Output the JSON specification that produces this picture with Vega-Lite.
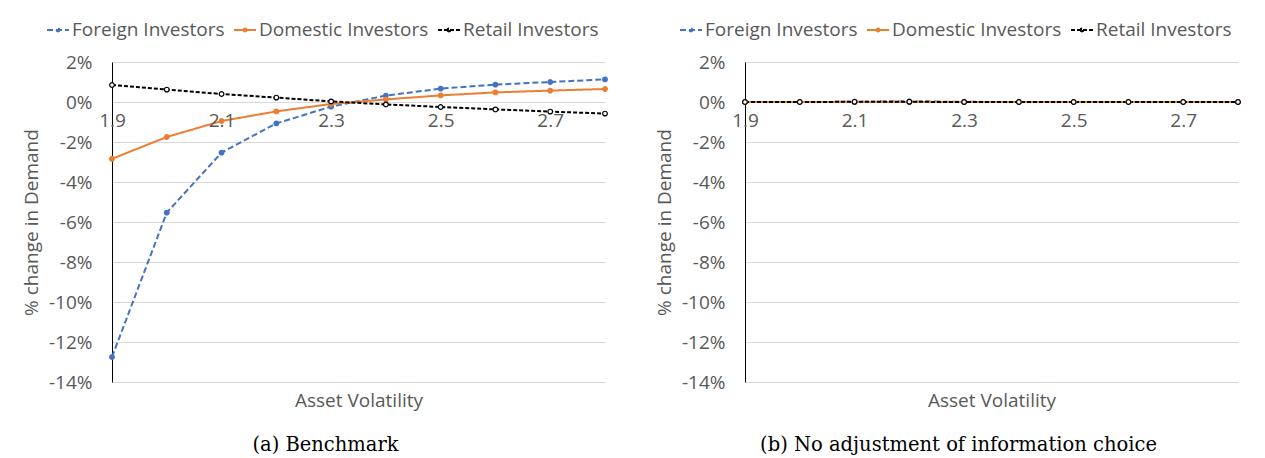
{
  "$schema": "https://vega.github.io/schema/vega-lite/v6.json",
  "background": "white",
  "padding": {"left": 22, "top": 18, "right": 5, "bottom": 5},
  "datasets": {
    "benchmark": [
      {"vol": 1.9, "series": "Foreign Investors", "pct": -12.75},
      {"vol": 2.0, "series": "Foreign Investors", "pct": -5.53},
      {"vol": 2.1, "series": "Foreign Investors", "pct": -2.53},
      {"vol": 2.2, "series": "Foreign Investors", "pct": -1.07},
      {"vol": 2.3, "series": "Foreign Investors", "pct": -0.23},
      {"vol": 2.4, "series": "Foreign Investors", "pct": 0.32},
      {"vol": 2.5, "series": "Foreign Investors", "pct": 0.67},
      {"vol": 2.6, "series": "Foreign Investors", "pct": 0.87},
      {"vol": 2.7, "series": "Foreign Investors", "pct": 1.0},
      {"vol": 2.8, "series": "Foreign Investors", "pct": 1.13},
      {"vol": 1.9, "series": "Domestic Investors", "pct": -2.84},
      {"vol": 2.0, "series": "Domestic Investors", "pct": -1.75},
      {"vol": 2.1, "series": "Domestic Investors", "pct": -0.95},
      {"vol": 2.2, "series": "Domestic Investors", "pct": -0.47},
      {"vol": 2.3, "series": "Domestic Investors", "pct": -0.1},
      {"vol": 2.4, "series": "Domestic Investors", "pct": 0.13},
      {"vol": 2.5, "series": "Domestic Investors", "pct": 0.33},
      {"vol": 2.6, "series": "Domestic Investors", "pct": 0.48},
      {"vol": 2.7, "series": "Domestic Investors", "pct": 0.57},
      {"vol": 2.8, "series": "Domestic Investors", "pct": 0.65},
      {"vol": 1.9, "series": "Retail Investors", "pct": 0.85},
      {"vol": 2.0, "series": "Retail Investors", "pct": 0.62},
      {"vol": 2.1, "series": "Retail Investors", "pct": 0.4},
      {"vol": 2.2, "series": "Retail Investors", "pct": 0.22},
      {"vol": 2.3, "series": "Retail Investors", "pct": 0.03},
      {"vol": 2.4, "series": "Retail Investors", "pct": -0.12},
      {"vol": 2.5, "series": "Retail Investors", "pct": -0.25},
      {"vol": 2.6, "series": "Retail Investors", "pct": -0.37},
      {"vol": 2.7, "series": "Retail Investors", "pct": -0.48},
      {"vol": 2.8, "series": "Retail Investors", "pct": -0.58}
    ],
    "noadjust": [
      {"vol": 1.9, "series": "Foreign Investors", "pct": 0.0},
      {"vol": 2.0, "series": "Foreign Investors", "pct": 0.0},
      {"vol": 2.1, "series": "Foreign Investors", "pct": 0.01},
      {"vol": 2.2, "series": "Foreign Investors", "pct": 0.03},
      {"vol": 2.3, "series": "Foreign Investors", "pct": 0.01},
      {"vol": 2.4, "series": "Foreign Investors", "pct": 0.0},
      {"vol": 2.5, "series": "Foreign Investors", "pct": 0.0},
      {"vol": 2.6, "series": "Foreign Investors", "pct": 0.0},
      {"vol": 2.7, "series": "Foreign Investors", "pct": 0.0},
      {"vol": 2.8, "series": "Foreign Investors", "pct": 0.0},
      {"vol": 1.9, "series": "Domestic Investors", "pct": 0.0},
      {"vol": 2.0, "series": "Domestic Investors", "pct": 0.0},
      {"vol": 2.1, "series": "Domestic Investors", "pct": 0.0},
      {"vol": 2.2, "series": "Domestic Investors", "pct": 0.0},
      {"vol": 2.3, "series": "Domestic Investors", "pct": 0.0},
      {"vol": 2.4, "series": "Domestic Investors", "pct": 0.0},
      {"vol": 2.5, "series": "Domestic Investors", "pct": 0.0},
      {"vol": 2.6, "series": "Domestic Investors", "pct": 0.0},
      {"vol": 2.7, "series": "Domestic Investors", "pct": 0.0},
      {"vol": 2.8, "series": "Domestic Investors", "pct": 0.0},
      {"vol": 1.9, "series": "Retail Investors", "pct": 0.0},
      {"vol": 2.0, "series": "Retail Investors", "pct": 0.0},
      {"vol": 2.1, "series": "Retail Investors", "pct": 0.01},
      {"vol": 2.2, "series": "Retail Investors", "pct": 0.01},
      {"vol": 2.3, "series": "Retail Investors", "pct": 0.0},
      {"vol": 2.4, "series": "Retail Investors", "pct": 0.0},
      {"vol": 2.5, "series": "Retail Investors", "pct": 0.0},
      {"vol": 2.6, "series": "Retail Investors", "pct": 0.0},
      {"vol": 2.7, "series": "Retail Investors", "pct": 0.0},
      {"vol": 2.8, "series": "Retail Investors", "pct": 0.0}
    ]
  },
  "config": {
    "font": "Open Sans",
    "view": {"stroke": null},
    "axis": {
      "labelColor": "#595959",
      "labelFontSize": 19,
      "titleColor": "#595959",
      "titleFontSize": 19,
      "titleFontWeight": "normal",
      "ticks": false,
      "labelOverlap": false
    },
    "axisY": {
      "values": [-14, -12, -10, -8, -6, -4, -2, 0, 2],
      "labelExpr": "datum.value + '%'",
      "domainColor": "black",
      "domainWidth": 1,
      "gridColor": "#d9d9d9",
      "gridWidth": 1,
      "labelPadding": 20,
      "titlePadding": 7,
      "labelOverlap": false
    },
    "legend": {
      "labelColor": "#595959",
      "labelFontSize": 19,
      "labelLimit": 0,
      "labelOffset": 2,
      "columnPadding": 5,
      "symbolStrokeWidth": 2,
      "symbolSize": 484,
      "symbolType": "M-1,0H1M-0.13,0a0.13,0.13 0 1,0 0.26,0a0.13,0.13 0 1,0 -0.26,0"
    },
    "title": {"font": "DejaVu Serif", "fontSize": 19.5, "fontWeight": "normal", "color": "black", "orient": "bottom", "offset": 26, "dx": -33}
  },
  "spacing": 45,
  "resolve": {"legend": {"color": "independent", "strokeDash": "independent"}},
  "hconcat": [
    {
      "title": {"text": "(a) Benchmark"},
      "width": 493,
      "height": 320,
      "data": {"name": "benchmark"},
      "resolve": {"axis": {"x": "independent"}},
      "encoding": {
        "y": {
          "field": "pct", "type": "quantitative",
          "scale": {"domain": [-14, 2], "nice": false},
          "axis": {"title": "% change in Demand"}
        }
      },
      "layer": [
        {
          "mark": {"type": "line", "strokeWidth": 2},
          "encoding": {
            "x": {
              "field": "vol", "type": "quantitative",
              "scale": {"domain": [1.9, 2.8], "nice": false, "zero": false},
              "axis": {"orient": "bottom", "offset": -280, "values": [1.9, 2.1, 2.3, 2.5, 2.7], "format": ".1f", "domain": false, "grid": false, "title": null, "labelPadding": 9, "labelFlush": false, "labelBound": false, "zindex": 1}
            },
            "color": {
              "field": "series", "type": "nominal",
              "scale": {"domain": ["Foreign Investors", "Domestic Investors", "Retail Investors"], "range": ["#4472c4", "#ed7d31", "#000000"]},
              "legend": {"title": null, "orient": "none", "direction": "horizontal", "legendX": -66, "legendY": -44}
            },
            "strokeDash": {
              "field": "series", "type": "nominal",
              "scale": {"domain": ["Foreign Investors", "Domestic Investors", "Retail Investors"], "range": [[6, 3], [1, 0], [4, 2]]},
              "legend": {"title": null, "orient": "none", "direction": "horizontal", "legendX": -66, "legendY": -44}
            }
          }
        },
        {
          "mark": {"type": "point", "filled": false, "size": 22, "strokeWidth": 1.2, "opacity": 1},
          "encoding": {
            "x": {
              "field": "vol", "type": "quantitative",
              "axis": {"orient": "bottom", "labels": false, "domain": false, "grid": false, "title": "Asset Volatility", "titlePadding": 9}
            },
            "fill": {
              "field": "series", "type": "nominal", "legend": null,
              "scale": {"domain": ["Foreign Investors", "Domestic Investors", "Retail Investors"], "range": ["#4472c4", "#ed7d31", "#ffffff"]}
            },
            "stroke": {
              "field": "series", "type": "nominal", "legend": null,
              "scale": {"domain": ["Foreign Investors", "Domestic Investors", "Retail Investors"], "range": ["#4472c4", "#ed7d31", "#000000"]}
            }
          }
        }
      ]
    },
    {
      "title": {"text": "(b) No adjustment of information choice"},
      "width": 493,
      "height": 320,
      "data": {"name": "noadjust"},
      "resolve": {"axis": {"x": "independent"}},
      "encoding": {
        "y": {
          "field": "pct", "type": "quantitative",
          "scale": {"domain": [-14, 2], "nice": false},
          "axis": {"title": "% change in Demand"}
        }
      },
      "layer": [
        {
          "mark": {"type": "line", "strokeWidth": 2},
          "encoding": {
            "x": {
              "field": "vol", "type": "quantitative",
              "scale": {"domain": [1.9, 2.8], "nice": false, "zero": false},
              "axis": {"orient": "bottom", "offset": -280, "values": [1.9, 2.1, 2.3, 2.5, 2.7], "format": ".1f", "domain": false, "grid": false, "title": null, "labelPadding": 9, "labelFlush": false, "labelBound": false, "zindex": 1}
            },
            "color": {
              "field": "series", "type": "nominal",
              "scale": {"domain": ["Foreign Investors", "Domestic Investors", "Retail Investors"], "range": ["#4472c4", "#ed7d31", "#000000"]},
              "legend": {"title": null, "orient": "none", "direction": "horizontal", "legendX": -66, "legendY": -44}
            },
            "strokeDash": {
              "field": "series", "type": "nominal",
              "scale": {"domain": ["Foreign Investors", "Domestic Investors", "Retail Investors"], "range": [[6, 3], [1, 0], [4, 2]]},
              "legend": {"title": null, "orient": "none", "direction": "horizontal", "legendX": -66, "legendY": -44}
            }
          }
        },
        {
          "mark": {"type": "point", "filled": false, "size": 22, "strokeWidth": 1.2, "opacity": 1},
          "encoding": {
            "x": {
              "field": "vol", "type": "quantitative",
              "axis": {"orient": "bottom", "labels": false, "domain": false, "grid": false, "title": "Asset Volatility", "titlePadding": 9}
            },
            "fill": {
              "field": "series", "type": "nominal", "legend": null,
              "scale": {"domain": ["Foreign Investors", "Domestic Investors", "Retail Investors"], "range": ["#4472c4", "#ed7d31", "#ffffff"]}
            },
            "stroke": {
              "field": "series", "type": "nominal", "legend": null,
              "scale": {"domain": ["Foreign Investors", "Domestic Investors", "Retail Investors"], "range": ["#4472c4", "#ed7d31", "#000000"]}
            }
          }
        }
      ]
    }
  ]
}
